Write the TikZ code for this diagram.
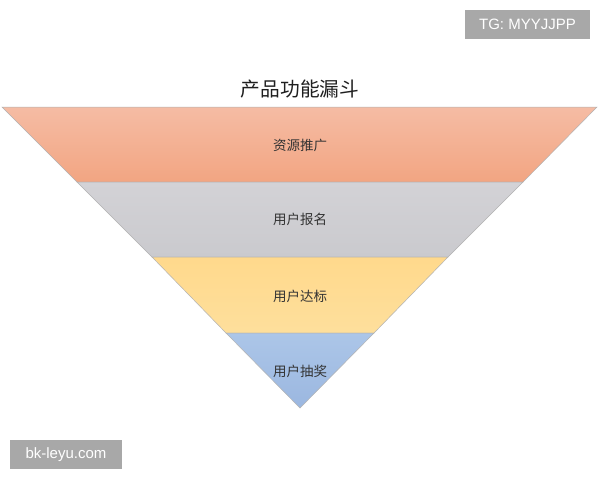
\documentclass[tikz,border=0pt]{standalone}
\usepackage{fontspec}
\setmainfont{Liberation Sans}
\newfontfamily\cjk{Noto Sans CJK SC}
\definecolor{salmonTop}{HTML}{F5BCA4}
\definecolor{salmonBot}{HTML}{F2A582}
\definecolor{grayTop}{HTML}{D3D2D6}
\definecolor{grayBot}{HTML}{CACACE}
\definecolor{yelTop}{HTML}{FFD98C}
\definecolor{yelBot}{HTML}{FEDF9C}
\definecolor{bluTop}{HTML}{ACC6E8}
\definecolor{bluBot}{HTML}{9BB7E0}
\definecolor{wmgray}{HTML}{A8A8A8}
\begin{document}
\begin{tikzpicture}[x=1pt,y=-1pt,
  bandlabel/.style={font=\cjk\fontsize{13.5}{15}\selectfont, text=black!80},
  wm/.style={fill=wmgray, text=white, font=\fontsize{15}{17}\selectfont, inner sep=0pt, minimum height=29pt},
  edge/.style={draw=black!30, line width=0.5pt}]
\useasboundingbox (0,0) rectangle (600,480);
\fill[white] (0,0) rectangle (600,480);
% bands
\shade[top color=salmonTop, bottom color=salmonBot, edge] (2,107) -- (597,107) -- (523,182) -- (77,182) -- cycle;
\shade[top color=grayTop, bottom color=grayBot, edge] (77,182) -- (523,182) -- (448,257) -- (152,257) -- cycle;
\shade[top color=yelTop, bottom color=yelBot, edge] (152,257) -- (448,257) -- (374,333) -- (226,333) -- cycle;
\shade[top color=bluTop, bottom color=bluBot, edge] (226,333) -- (374,333) -- (300,408) -- cycle;
% labels
\node[font=\cjk\fontsize{19.7}{22}\selectfont, text=black!88] (title) at (300,89) {产品功能漏斗};
\node[bandlabel] (b1) at (300,145) {资源推广};
\node[bandlabel] (b2) at (300,219) {用户报名};
\node[bandlabel] (b3) at (300,296) {用户达标};
\node[bandlabel] (b4) at (300,371) {用户抽奖};
% watermarks
\node[wm, minimum width=125pt] (tg) at (527.5,24.5) {TG: MYYJJPP};
\node[wm, minimum width=112pt] (site) at (66,454.5) {bk-leyu.com};
\end{tikzpicture}
\end{document}
